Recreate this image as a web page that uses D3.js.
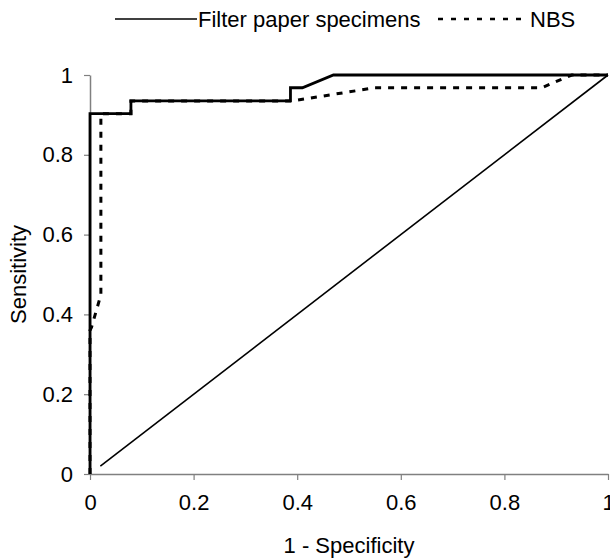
<!DOCTYPE html>
<html>
<head>
<meta charset="utf-8">
<script src="https://cdn.jsdelivr.net/npm/d3@7"></script>
<style>
body { margin: 0; background: #fff; }
text { font-family: "Liberation Sans", Arial, sans-serif; }
</style>
</head>
<body>
<script>
// ROC curves, values
var filterX = [0, 0, 0.079, 0.079, 0.387, 0.387, 0.41, 0.47, 1];
var filterY = [0, 0.903, 0.903, 0.935, 0.935, 0.968, 0.968, 1, 1];
var nbsX = [0, 0, 0.003, 0.021, 0.021, 0.079, 0.079, 0.39, 0.55, 0.872, 0.93, 1];
var nbsY = [0, 0.36, 0.368, 0.449, 0.903, 0.903, 0.935, 0.935, 0.968, 0.968, 1, 1];
var refX = [0.02, 1];
var refY = [0.02, 1];
var xTicks = [0, 0.2, 0.4, 0.6, 0.8, 1];
var yTicks = [0, 0.2, 0.4, 0.6, 0.8, 1];

var width = 610, height = 559;
var mLeft = 90, mRight = 608, mTop = 75, mBottom = 474;

var svg = d3.select("body").append("svg")
	.attr("width", width)
	.attr("height", height);

var x = d3.scaleLinear().domain([0, 1]).range([mLeft, mRight]);
var y = d3.scaleLinear().domain([0, 1]).range([mBottom, mTop]);

var fmt = function(d) { return d === 0 || d === 1 ? String(d) : d.toFixed(1); };

var xAxis = svg.append("g")
	.attr("transform", "translate(0," + mBottom + ")")
	.call(d3.axisBottom(x).tickValues(xTicks).tickFormat(fmt).tickSize(6).tickSizeOuter(0).tickPadding(14));
var yAxis = svg.append("g")
	.attr("transform", "translate(" + mLeft + ",0)")
	.call(d3.axisLeft(y).tickValues(yTicks).tickFormat(fmt).tickSize(6).tickSizeOuter(0).tickPadding(11));

[xAxis, yAxis].forEach(function(g) {
	g.select(".domain").attr("stroke", "#808080").attr("stroke-width", 1.5);
	g.selectAll(".tick line").attr("stroke", "#808080").attr("stroke-width", 1.2);
	g.selectAll(".tick text").attr("fill", "#000").attr("font-size", "22px")
		.attr("font-family", "Liberation Sans, Arial, sans-serif");
});

function pts(xs, ys) {
	return xs.map(function(d, i) { return [d, ys[i]]; });
}
var line = d3.line()
	.x(function(d) { return x(d[0]); })
	.y(function(d) { return y(d[1]); });

// reference diagonal
svg.append("path").datum(pts(refX, refY))
	.attr("d", line).attr("fill", "none")
	.attr("stroke", "#000").attr("stroke-width", 1.6);

svg.append("path").datum(pts(filterX, filterY))
	.attr("d", line).attr("fill", "none")
	.attr("stroke", "#000").attr("stroke-width", 2.8);

svg.append("path").datum(pts(nbsX, nbsY))
	.attr("d", line).attr("fill", "none")
	.attr("stroke", "#000").attr("stroke-width", 3)
	.attr("stroke-dasharray", "6,7");

// axis titles
svg.append("text")
	.attr("x", (mLeft + mRight) / 2).attr("y", 553)
	.attr("text-anchor", "middle").attr("font-size", "22px")
	.text("1 - Specificity");
svg.append("text")
	.attr("transform", "translate(26," + ((mTop + mBottom) / 2) + ") rotate(-90)")
	.attr("text-anchor", "middle").attr("font-size", "22px")
	.text("Sensitivity");

// legend
var leg = svg.append("g");
leg.append("line").attr("x1", 115).attr("x2", 197).attr("y1", 19).attr("y2", 19)
	.attr("stroke", "#000").attr("stroke-width", 1.6);
leg.append("text").attr("x", 198).attr("y", 27).attr("font-size", "22px")
	.text("Filter paper specimens");
leg.append("line").attr("x1", 438).attr("x2", 528).attr("y1", 19).attr("y2", 19)
	.attr("stroke", "#000").attr("stroke-width", 2.4).attr("stroke-dasharray", "5,8");
leg.append("text").attr("x", 530).attr("y", 27).attr("font-size", "22px")
	.text("NBS");
</script>
</body>
</html>
